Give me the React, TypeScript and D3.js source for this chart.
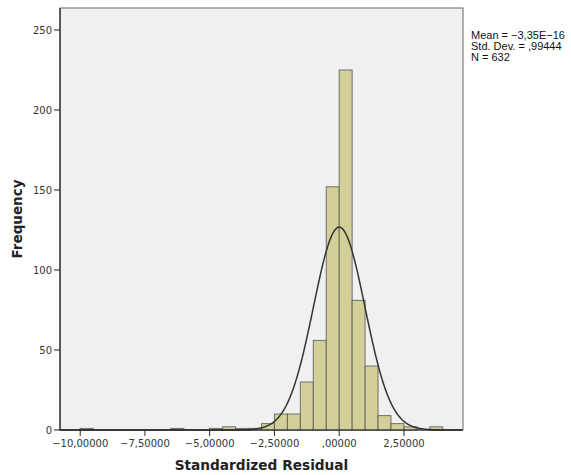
import React from "react";
import * as d3 from "d3";

// histogram bins (lower edge) and their frequencies
const binStarts = [-10, -6.5, -5, -4.5, -4, -3.5, -3, -2.5, -2, -1.5, -1, -0.5, 0, 0.5, 1, 1.5, 2, 2.5, 3.5];
const counts = [1, 1, 1, 2, 1, 1, 4, 10, 10, 30, 56, 152, 225, 81, 40, 9, 4, 2, 2];
const binWidth = 0.5;

const xTicks = [-10, -7.5, -5, -2.5, 0, 2.5];
const yTicks = [0, 50, 100, 150, 200, 250];

const statLabels = ["Mean = \u22123,35E\u221216", "Std. Dev. = ,99444", "N = 632"];
const mean = -3.35e-16;
const sd = 0.99444;
const n = 632;

const fmtX = (v: number) => {
  const s = Math.abs(v).toFixed(5).replace(".", ",");
  const t = s.startsWith("0,") ? s.slice(1) : s;
  return (v < 0 ? "\u2212" : "") + t;
};

export default function App() {
  const W = 571;
  const H = 475;
  const left = 60, right = 463, top = 8, bottom = 430;

  const x = d3.scaleLinear().domain([-10.78, 4.78]).range([left, right]);
  const y = d3.scaleLinear().domain([0, 263.75]).range([bottom, top]);

  // normal curve fitted from the stats shown in the legend
  const xs = d3.range(-10.78, 4.78, 0.02);
  const norm = (v: number) =>
    (n * binWidth * Math.exp(-0.5 * ((v - mean) / sd) ** 2)) / (sd * Math.sqrt(2 * Math.PI));
  const line = d3.line<number>().x((d) => x(d)).y((d) => y(norm(d)));

  const font = "'DejaVu Sans', sans-serif";

  return (
    <svg width={W} height={H} style={{ position: "absolute", left: 0, top: 0, background: "#fff" }}>
      <rect x={left} y={top} width={right - left} height={bottom - top} fill="#f0f0f0" stroke="#666" />
      {binStarts.map((b, i) => (
        <rect
          key={i}
          x={x(b)}
          y={y(counts[i])}
          width={x(b + binWidth) - x(b)}
          height={y(0) - y(counts[i])}
          fill="#d3cf98"
          stroke="#555"
          strokeOpacity={0.8}
          strokeWidth={1}
        />
      ))}
      <path d={line(xs) || ""} fill="none" stroke="#333" strokeWidth={1.5} />
      <line x1={left} x2={left} y1={top} y2={bottom} stroke="#222" strokeWidth={1.2} />
      <line x1={left} x2={right} y1={bottom} y2={bottom} stroke="#222" strokeWidth={1.2} />
      {yTicks.map((t) => (
        <g key={t} transform={`translate(0,${y(t)})`}>
          <line x1={left - 6} x2={left} stroke="#222" />
          <text x={left - 8} dy="0.35em" textAnchor="end" fontSize={10} fontFamily={font} fill="#333">
            {t}
          </text>
        </g>
      ))}
      {xTicks.map((t) => (
        <g key={t} transform={`translate(${x(t)},0)`}>
          <line y1={bottom} y2={bottom + 6} stroke="#222" />
          <text y={bottom + 17} textAnchor="middle" fontSize={10} fontFamily={font} fill="#333">
            {fmtX(t)}
          </text>
        </g>
      ))}
      <text
        transform={`translate(22,${(top + bottom) / 2}) rotate(-90)`}
        textAnchor="middle"
        fontSize={13.5}
        fontWeight="bold"
        fontFamily={font}
        fill="#222"
      >
        Frequency
      </text>
      <text
        x={(left + right) / 2}
        y={470}
        textAnchor="middle"
        fontSize={13.7}
        fontWeight="bold"
        fontFamily={font}
        fill="#222"
      >
        Standardized Residual
      </text>
      {statLabels.map((s, i) => (
        <text key={i} x={471} y={39 + i * 11} fontSize={11} fontFamily="'Liberation Sans', Arial, sans-serif" fill="#111">
          {s}
        </text>
      ))}
    </svg>
  );
}
